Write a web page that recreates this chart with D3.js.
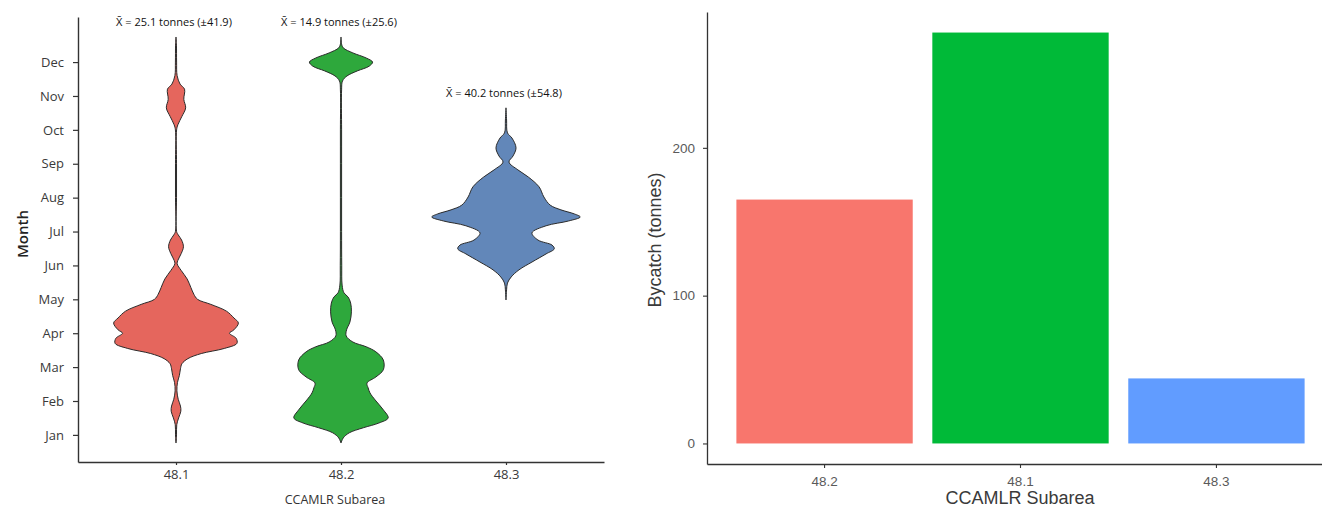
<!DOCTYPE html>
<html>
<head>
<meta charset="utf-8">
<script src="https://cdn.jsdelivr.net/npm/d3@7"></script>
<style>
  html, body { margin: 0; padding: 0; background: #fff; }
  svg { display: block; }
</style>
</head>
<body>
<svg id="chart" width="1322" height="510"></svg>
<script>
// ---------------- DATA ----------------
const months = ["Jan","Feb","Mar","Apr","May","Jun","Jul","Aug","Sep","Oct","Nov","Dec"];
const violinCats = ["48.1","48.2","48.3"];
const violinMeans = ["25.1","14.9","40.2"];
const violinSDs = ["41.9","25.6","54.8"];

// violin density profiles: [month (1=Jan..12=Dec), relative density]
const density481 = [[12.74,0],[12.5,0.006],[12.0,0.008],[11.6,0.015],[11.35,0.055],[11.2,0.115],[10.9,0.105],[10.65,0.13],[10.4,0.08],[10.15,0.025],[10.0,0.008],[9,0.007],[8,0.007],[7.0,0.008],[6.9,0.03],[6.75,0.075],[6.55,0.1],[6.35,0.07],[6.15,0.025],[6.05,0.015],[5.85,0.07],[5.6,0.15],[5.35,0.2],[5.15,0.24],[5.0,0.29],[4.85,0.47],[4.65,0.68],[4.45,0.78],[4.3,0.84],[4.1,0.78],[4.0,0.72],[3.85,0.81],[3.7,0.82],[3.55,0.65],[3.4,0.34],[3.25,0.16],[3.1,0.08],[2.95,0.06],[2.75,0.045],[2.55,0.02],[2.3,0.012],[2.05,0.03],[1.85,0.06],[1.7,0.065],[1.5,0.035],[1.3,0.01],[1.0,0.007],[0.76,0]];
const density482 = [[12.74,0],[12.53,0.008],[12.42,0.03],[12.27,0.16],[12.12,0.34],[12.0,0.425],[11.88,0.38],[11.74,0.22],[11.59,0.08],[11.44,0.02],[11.18,0.008],[10,0.008],[9,0.008],[8,0.008],[7,0.008],[6,0.01],[5.42,0.015],[5.19,0.04],[5.07,0.095],[4.89,0.13],[4.63,0.14],[4.33,0.12],[4.1,0.075],[3.92,0.07],[3.74,0.16],[3.6,0.34],[3.45,0.47],[3.21,0.57],[2.92,0.57],[2.71,0.47],[2.53,0.35],[2.39,0.365],[2.24,0.39],[2.03,0.46],[1.74,0.57],[1.5,0.635],[1.35,0.51],[1.21,0.3],[1.06,0.11],[0.91,0.03],[0.76,0]];
const density483 = [[10.65,0],[10.29,0.008],[9.91,0.02],[9.76,0.08],[9.47,0.135],[9.23,0.095],[9.05,0.04],[8.82,0.16],[8.61,0.3],[8.32,0.445],[8.02,0.51],[7.78,0.595],[7.64,0.74],[7.52,0.92],[7.43,1.0],[7.31,0.84],[7.17,0.54],[6.96,0.35],[6.75,0.43],[6.6,0.62],[6.49,0.65],[6.34,0.54],[6.1,0.35],[5.87,0.175],[5.66,0.07],[5.48,0.02],[5.28,0.008],[4.98,0]];
const violinDensities = [density481, density482, density483];

const barCats = ["48.2","48.1","48.3"];
const bycatch = [165, 278, 44];
const bycatchTicks = [0, 100, 200];

// ---------------- STYLE ----------------
const violinFill = {"48.1":"#e5665d","48.2":"#2ea83c","48.3":"#6287b9"};
const barFill = {"48.2":"#f8766d","48.1":"#00ba38","48.3":"#619cff"};

const svg = d3.select("#chart");
svg.append("rect").attr("width",1322).attr("height",510).attr("fill","#fff");

// ---------------- LEFT: violins ----------------
const L = {left:78, right:604, top:17, bottom:462};
const yL = d3.scaleLinear().domain([0.2, 13.33]).range([L.bottom, L.top]);
const xL = d3.scalePoint().domain(violinCats).range([L.left, L.right]).padding(0.594);
const wL = d3.scaleLinear().domain([0, 1]).range([0, 0.45 * xL.step()]);

const gL = svg.append("g");
violinCats.forEach((c, i) => {
  const cx = xL(c);
  const area = d3.area()
    .curve(d3.curveCatmullRom.alpha(0.5))
    .y(d => yL(d[0]))
    .x0(d => cx - wL(d[1]))
    .x1(d => cx + wL(d[1]));
  gL.append("path")
    .datum(violinDensities[i])
    .attr("d", area)
    .attr("fill", violinFill[c])
    .attr("stroke", "#2b2b2b")
    .attr("stroke-width", 1)
    .attr("stroke-linejoin", "round");
  const topM = d3.max(violinDensities[i], d => d[0]);
  gL.append("text")
    .attr("x", cx - 2)
    .attr("y", yL(topM) - 11)
    .attr("text-anchor", "middle")
    .attr("font-family", "'Open Sans', sans-serif")
    .attr("font-size", "11px")
    .attr("fill", "#111")
    .text("X\u0304 = " + violinMeans[i] + " tonnes (\u00B1" + violinSDs[i] + ")");
});

const axL = gL.append("g").attr("transform", `translate(${L.left},0)`)
  .call(d3.axisLeft(yL).tickValues(d3.range(1, 13)).tickFormat(m => months[m - 1]).tickSize(5).tickSizeOuter(0).tickPadding(9));
const axLB = gL.append("g").attr("transform", `translate(0,${L.bottom})`)
  .call(d3.axisBottom(xL).tickSize(3).tickSizeOuter(0).tickPadding(5));
[axL, axLB].forEach(a => {
  a.select(".domain").attr("stroke", "#333").attr("stroke-width", 1.4);
  a.selectAll(".tick line").attr("stroke", "#333").attr("stroke-width", 1.2);
  a.selectAll(".tick text").attr("font-family", "'Open Sans', sans-serif").attr("font-size", "13px").attr("fill", "#3a3a3a");
});

gL.append("text")
  .attr("transform", "translate(28,234) rotate(-90)")
  .attr("text-anchor", "middle")
  .attr("font-family", "'Open Sans', sans-serif")
  .attr("font-size", "15px").attr("font-weight", 600)
  .attr("fill", "#222")
  .text("Month");
gL.append("text")
  .attr("x", 335).attr("y", 504)
  .attr("text-anchor", "middle")
  .attr("font-family", "'Open Sans', sans-serif")
  .attr("font-size", "12.5px")
  .attr("fill", "#333")
  .text("CCAMLR Subarea");

// ---------------- RIGHT: bars ----------------
const R = {left:707, right:1334, top:12, bottom:464};
const maxB = d3.max(bycatch);
const yR = d3.scaleLinear().domain([-0.05 * maxB, 1.05 * maxB]).range([R.bottom, R.top]);
const xR = d3.scaleBand().domain(barCats).range([R.left, R.right]).paddingInner(0.1).paddingOuter(0.15);

const gR = svg.append("g");
gR.selectAll("rect.bar")
  .data(barCats.map((c, i) => ({c, v: bycatch[i]})))
  .join("rect")
  .attr("class", "bar")
  .attr("x", d => xR(d.c))
  .attr("width", xR.bandwidth())
  .attr("y", d => yR(d.v))
  .attr("height", d => yR(0) - yR(d.v))
  .attr("fill", d => barFill[d.c]);

const axR = gR.append("g").attr("transform", `translate(${R.left},0)`)
  .call(d3.axisLeft(yR).tickValues(bycatchTicks).tickSize(4).tickSizeOuter(0).tickPadding(8));
const axRB = gR.append("g").attr("transform", `translate(0,${R.bottom})`)
  .call(d3.axisBottom(xR).tickSize(4).tickSizeOuter(0).tickPadding(8));
[axR, axRB].forEach(a => {
  a.select(".domain").attr("stroke", "#333").attr("stroke-width", 1.3);
  a.selectAll(".tick line").attr("stroke", "#333").attr("stroke-width", 1.1);
  a.selectAll(".tick text").attr("font-family", "'Liberation Sans', Arial, sans-serif").attr("font-size", "13.5px").attr("fill", "#5a5a5a");
});

gR.append("text")
  .attr("transform", "translate(661,240) rotate(-90)")
  .attr("text-anchor", "middle")
  .attr("font-family", "'Liberation Sans', Arial, sans-serif")
  .attr("font-size", "18px")
  .attr("fill", "#3a3a3a")
  .text("Bycatch (tonnes)");
gR.append("text")
  .attr("x", 1020).attr("y", 503.5)
  .attr("text-anchor", "middle")
  .attr("font-family", "'Liberation Sans', Arial, sans-serif")
  .attr("font-size", "18px")
  .attr("fill", "#3a3a3a")
  .text("CCAMLR Subarea");
</script>
</body>
</html>
